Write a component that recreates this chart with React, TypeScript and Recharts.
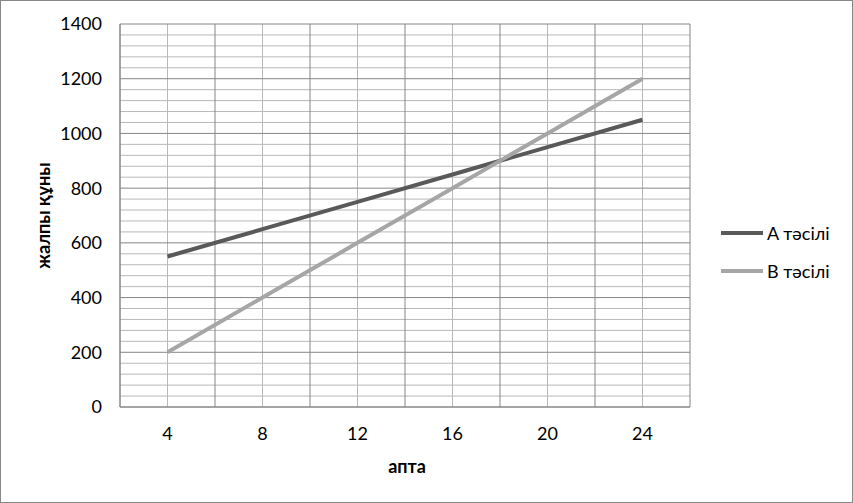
import * as React from "react"
import { LineChart, Line, XAxis, YAxis, CartesianGrid } from "recharts"

// weeks and cost for the two methods
const weeks = [4, 8, 12, 16, 20, 24]
const methodA = [550, 650, 750, 850, 950, 1050]
const methodB = [200, 400, 600, 800, 1000, 1200]
const seriesNames = ["A тәсілі", "B тәсілі"]
const seriesColors = ["#595959", "#a6a6a6"]

const xTicks = [4, 8, 12, 16, 20, 24]
const xMajor = [2, 6, 10, 14, 18, 22, 26]
const yMax = 1400
const yTicks = [0, 200, 400, 600, 800, 1000, 1200, 1400]
const yMinor = [40, 80, 120, 160, 240, 280, 320, 360, 440, 480, 520, 560, 640, 680, 720, 760, 840, 880, 920, 960, 1040, 1080, 1120, 1160, 1240, 1280, 1320, 1360]

const data = weeks.map((w, i) => ({ week: w, a: methodA[i], b: methodB[i] }))

const FONT = "Lato, 'Open Sans', sans-serif"
const MAJOR = "#868686"
const MINOR = "#b9b9b9"

// minor horizontal lines: map values through the y scale (or plot box if scale missing)
const minorRows = (args: any) => {
  const s = args && args.yAxis && args.yAxis.scale
  if (typeof s === "function") return yMinor.map((v) => s(v))
  const o = args.offset
  return yMinor.map((v) => o.top + o.height * (1 - v / yMax))
}

export default function App() {
  return (
    <div
      style={{
        position: "absolute",
        left: 0,
        top: 0,
        width: 853,
        height: 503,
        border: "1px solid #888",
        boxSizing: "border-box",
        background: "#fff",
        fontFamily: FONT,
      }}
    >
      <LineChart
        width={851}
        height={501}
        data={data}
        margin={{ top: 23, right: 162, bottom: 0, left: 0 }}
      >
        <CartesianGrid
          stroke={MINOR}
          horizontalCoordinatesGenerator={minorRows}
          verticalValues={xTicks}
        />
        <CartesianGrid
          stroke={MAJOR}
          horizontalValues={yTicks}
          verticalValues={xMajor}
        />
        <XAxis
          dataKey="week"
          type="number"
          domain={[2, 26]}
          ticks={xTicks}
          height={95}
          tickLine={false}
          tickSize={0}
          tickMargin={20}
          axisLine={{ stroke: MAJOR }}
          tick={{ fill: "#000", fontSize: 18, fontFamily: FONT }}
          label={{
            content: ({ viewBox }: any) => (
              <text
                x={viewBox.x + viewBox.width / 2 + 2}
                y={viewBox.y + 66}
                textAnchor="middle"
                fontWeight="bold"
                fontSize={18}
                fontFamily={FONT}
                fill="#000"
              >
                апта
              </text>
            ),
          }}
        />
        <YAxis
          type="number"
          domain={[0, yMax]}
          ticks={yTicks}
          width={119}
          tickLine={false}
          tickSize={0}
          tickMargin={18}
          axisLine={{ stroke: MAJOR }}
          tick={{ fill: "#000", fontSize: 18, fontFamily: FONT }}
          label={{
            content: ({ viewBox }: any) => {
              const cx = 44
              const cy = viewBox.y + viewBox.height / 2
              return (
                <text
                  x={cx}
                  y={cy}
                  transform={`rotate(-90 ${cx} ${cy})`}
                  textAnchor="middle"
                  dominantBaseline="middle"
                  fontWeight="bold"
                  fontSize={18}
                  fontFamily={FONT}
                  fill="#000"
                >
                  жалпы құны
                </text>
              )
            },
          }}
        />
        <Line
          dataKey="a"
          name={seriesNames[0]}
          stroke={seriesColors[0]}
          strokeWidth={4}
          dot={false}
          isAnimationActive={false}
        />
        <Line
          dataKey="b"
          name={seriesNames[1]}
          stroke={seriesColors[1]}
          strokeWidth={4}
          dot={false}
          isAnimationActive={false}
        />
      </LineChart>
      {seriesNames.map((name, i) => (
        <div
          key={name}
          style={{
            position: "absolute",
            left: 720,
            top: 220 + i * 38,
            display: "flex",
            alignItems: "center",
            fontSize: 18,
            color: "#000",
            height: 24,
          }}
        >
          <span
            style={{
              display: "inline-block",
              width: 42,
              height: 4,
              background: seriesColors[i],
              marginRight: 4,
            }}
          />
          {name}
        </div>
      ))}
    </div>
  )
}
